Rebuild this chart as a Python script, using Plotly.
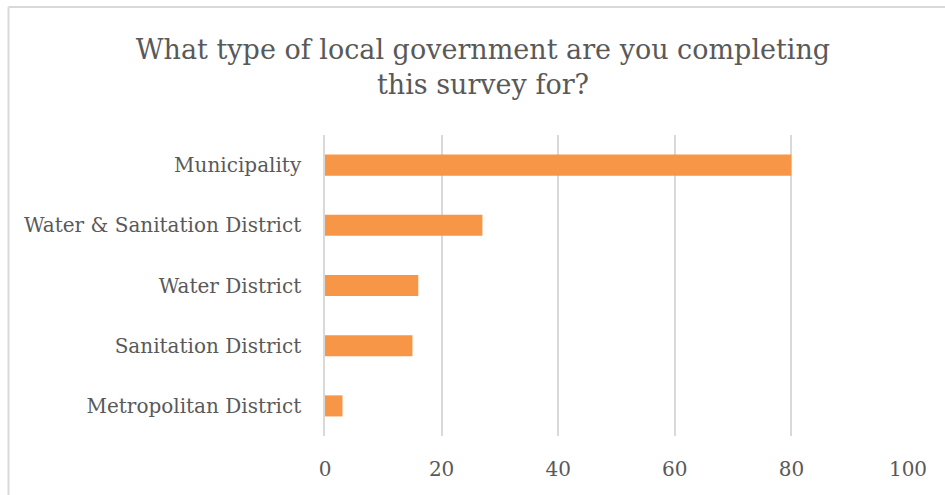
import plotly.graph_objects as go

categories = ["Municipality", "Water & Sanitation District", "Water District",
              "Sanitation District", "Metropolitan District"]
values = [80, 27, 16, 15, 3]
x_ticks = [0, 20, 40, 60, 80, 100]

W, H = 945, 495
L, R, T, B = 325, 908, 135, 436
pw, ph = R - L, B - T

def px(x):
    return (x - L) / pw

def py(y):
    return (B - y) / ph

font = "DejaVu Serif"
txt = "#595959"

fig = go.Figure(go.Bar(
    x=values, y=categories, orientation="h",
    marker=dict(color="#F79646", line=dict(width=0)),
    width=0.35,
))

fig.update_layout(
    width=W, height=H,
    margin=dict(l=L, r=W - R, t=T, b=H - B, autoexpand=False),
    paper_bgcolor="white", plot_bgcolor="white",
    showlegend=False,
    title=dict(
        text="What type of local government are you completing<br>this survey for?",
        x=483 / W, xref="container", xanchor="center",
        y=1 - 59 / H, yanchor="middle",
        font=dict(family=font, size=27, color=txt),
    ),
    xaxis=dict(
        range=[0, 100], tickvals=x_ticks, ticktext=[str(v) for v in x_ticks],
        showgrid=True, gridcolor="#D9D9D9", gridwidth=1.6,
        zeroline=False, showline=False, ticks="",
        tickfont=dict(family=font, size=20, color=txt),
        ticklabelstandoff=19,
    ),
    yaxis=dict(
        categoryorder="array", categoryarray=categories[::-1],
        showgrid=False, zeroline=False, showline=True,
        linecolor="#D9D9D9", linewidth=1.6, ticks="",
        tickfont=dict(family=font, size=20, color=txt),
        ticklabelstandoff=18,
    ),
    shapes=[
        dict(type="line", xref="paper", yref="paper",
             x0=px(8.5), x1=px(960), y0=py(7), y1=py(7),
             line=dict(color="#D9D9D9", width=2)),
        dict(type="line", xref="paper", yref="paper",
             x0=px(8.5), x1=px(8.5), y0=py(7), y1=py(510),
             line=dict(color="#D9D9D9", width=2)),
    ],
)

fig.write_html("out.html")
